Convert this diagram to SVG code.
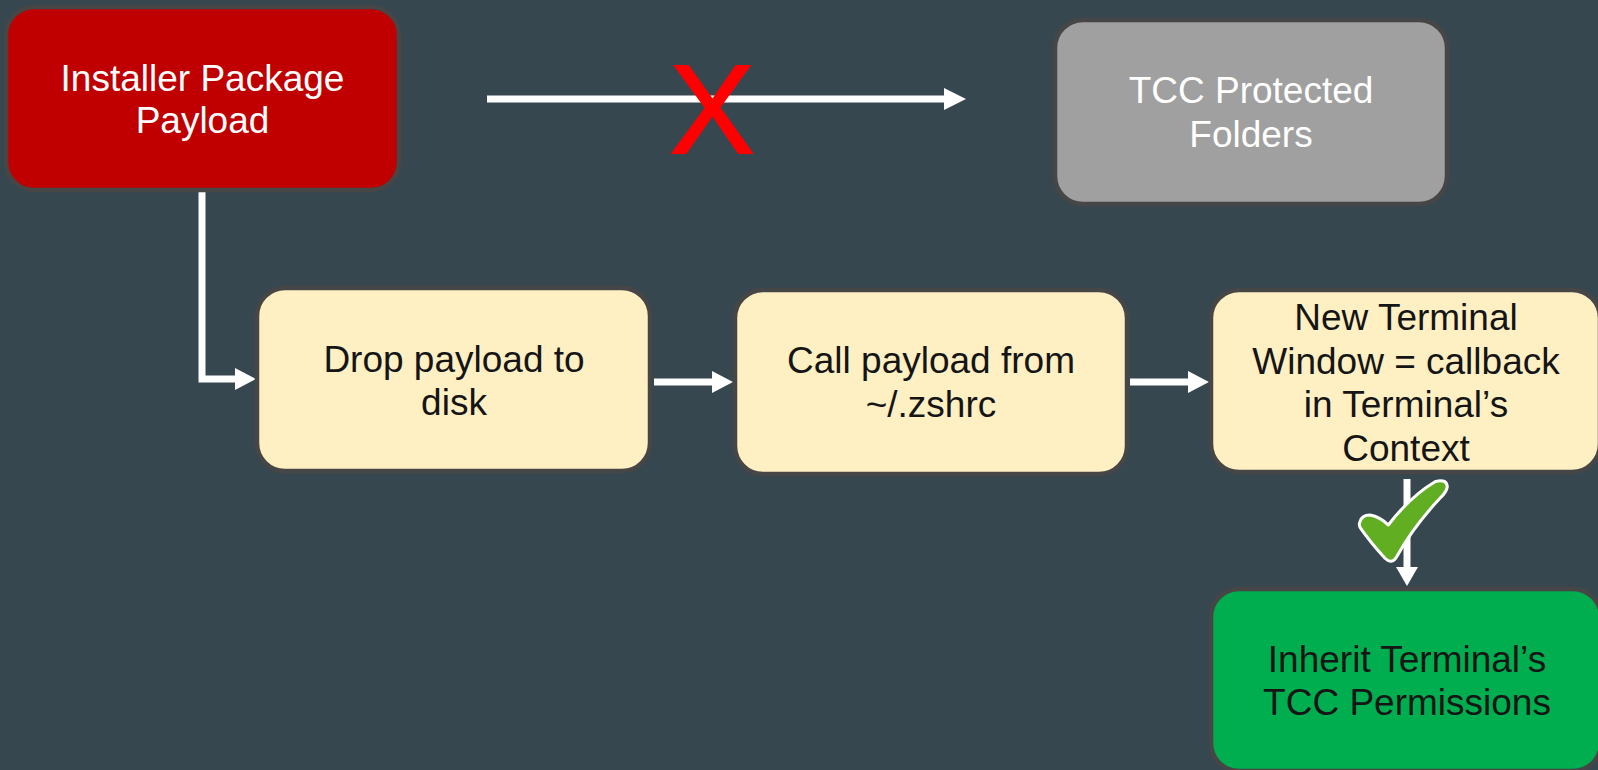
<svg xmlns="http://www.w3.org/2000/svg" width="1598" height="770" viewBox="0 0 1598 770">
  <style>
    .box { stroke: #464646; stroke-width: 4.5; }
    .red { fill: #c00000; }
    .grey { fill: #a0a0a0; }
    .note { fill: #fff0c4; }
    .ok { fill: #00ad4f; }
    .lbl { font-family: "Liberation Sans", Arial, sans-serif; font-size: 37px; text-anchor: middle; }
    .light { fill: #ffffff; }
    .dark { fill: #151515; }
    .wire { fill: none; stroke: #ffffff; stroke-width: 7; stroke-linejoin: miter; }
    .head { fill: #ffffff; }
  </style>

  <rect x="0" y="0" width="1598" height="770" fill="#37474f"/>

  <!-- connectors -->
  <g id="connectors">
    <!-- blocked path to protected folders -->
    <line class="wire" x1="487" y1="99" x2="945" y2="99"/>
    <polygon class="head" points="944,88 966,99 944,110"/>
    <!-- installer payload down and into drop step -->
    <path class="wire" d="M202 192 V379 H236"/>
    <polygon class="head" points="235,368 256,379 235,390"/>
    <!-- drop -> call -->
    <line class="wire" x1="654" y1="382" x2="713" y2="382"/>
    <polygon class="head" points="712,371 733,382 712,393"/>
    <!-- call -> terminal -->
    <line class="wire" x1="1130" y1="382" x2="1189" y2="382"/>
    <polygon class="head" points="1188,371 1209,382 1188,393"/>
    <!-- terminal -> inherit -->
    <line class="wire" x1="1407" y1="479" x2="1407" y2="568"/>
    <polygon class="head" points="1396,567 1407,586 1418,567"/>
  </g>

  <!-- red cross over the blocked path -->
  <text x="712" y="153" font-family="'Liberation Sans', Arial, sans-serif" font-size="127" text-anchor="middle" fill="#ff0000" stroke="#ff0000" stroke-width="2">X</text>

  <!-- green tick over the allowed path -->
  <path d="M1360 521.7 Q1361.7 515 1370 515 Q1380 516.7 1388.3 525 Q1410 496.7 1435 481.7 Q1446.7 478.3 1447.3 486.7 Q1446.7 491.7 1440 498.3 Q1413.3 526.7 1396.7 556.7 Q1391.7 565 1385 558.3 Q1370 541.7 1360.7 528.3 Q1358.3 525 1360 521.7 Z" fill="#62ae22" stroke="#ffffff" stroke-width="3" stroke-linejoin="round"/>

  <g id="installer">
    <rect class="box red" x="6" y="7" width="393" height="183" rx="28"/>
    <text class="lbl light" x="202.5" y="91">Installer Package</text>
    <text class="lbl light" x="202.5" y="133">Payload</text>
  </g>

  <g id="protected">
    <rect class="box grey" x="1055" y="20" width="392" height="184" rx="28"/>
    <text class="lbl light" x="1251" y="103">TCC Protected</text>
    <text class="lbl light" x="1251" y="147">Folders</text>
  </g>

  <g id="drop">
    <rect class="box note" x="257" y="288" width="393" height="183" rx="28"/>
    <text class="lbl dark" x="454" y="372">Drop payload to</text>
    <text class="lbl dark" x="454" y="415">disk</text>
  </g>

  <g id="call">
    <rect class="box note" x="735" y="290" width="392" height="184" rx="28"/>
    <text class="lbl dark" x="931" y="373">Call payload from</text>
    <text class="lbl dark" x="931" y="417">~/.zshrc</text>
  </g>

  <g id="terminal">
    <rect class="box note" x="1211" y="290" width="389" height="182" rx="28"/>
    <text class="lbl dark" x="1406" y="330">New Terminal</text>
    <text class="lbl dark" x="1406" y="374">Window = callback</text>
    <text class="lbl dark" x="1406" y="417">in Terminal’s</text>
    <text class="lbl dark" x="1406" y="461">Context</text>
  </g>

  <g id="inherit">
    <rect class="box ok" x="1211" y="589" width="390" height="182" rx="28"/>
    <text class="lbl dark" x="1407" y="672">Inherit Terminal’s</text>
    <text class="lbl dark" x="1407" y="715">TCC Permissions</text>
  </g>
</svg>
